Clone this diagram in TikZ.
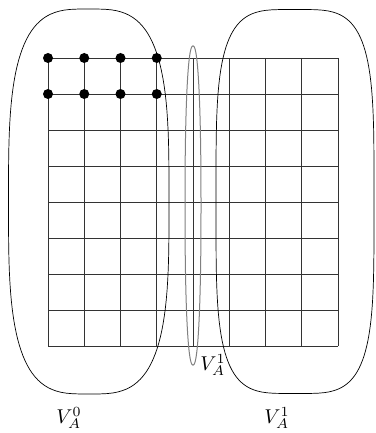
\documentclass[tikz,border=0pt]{standalone}
\begin{document}
\begin{tikzpicture}[x=1pt,y=-1pt,
  gridline/.style={draw=black!80,line width=0.9pt},
  blob/.style={draw=black,line width=0.7pt},
  midblob/.style={draw=black!50,line width=1pt},
  dot/.style={circle,fill=black,inner sep=0pt,minimum size=10pt},
  lbl/.style={scale=2,inner sep=0pt}]
\useasboundingbox (0,0) rectangle (375,433);
% grid
\foreach \i in {0,...,8}{
  \draw[gridline] ({48+36.25*\i},58) -- ({48+36.25*\i},346);
  \draw[gridline] (48,{58+36*\i}) -- (338,{58+36*\i});
}
% blobs
\draw[blob] plot[domain=1:361,samples=121]
  ({88.75+80.25*sign(cos(\x))*abs(cos(\x))^(2/3.3)},
   {201.5+192.5*sign(sin(\x))*abs(sin(\x))^(2/3.3)}) -- cycle;
\draw[blob] plot[domain=1:361,samples=121]
  ({295+79*sign(cos(\x))*abs(cos(\x))^(2/4)},
   {201.5+192*sign(sin(\x))*abs(sin(\x))^(2/4)}) -- cycle;
\draw[midblob] plot[domain=1:361,samples=181]
  ({193+8*sign(cos(\x))*abs(cos(\x))^(2/2.3)},
   {205.5+159.5*sign(sin(\x))*abs(sin(\x))^(2/2.3)}) -- cycle;
% dots
\foreach \c [count=\k] in {0,1,2,3}{
  \node[dot] (a\k) at ({48+36.25*\c},58) {};
  \node[dot] (b\k) at ({48+36.25*\c},94) {};
}
% labels
\node[lbl] (l0) at (69,418) {$V_A^0$};
\node[lbl] (l1) at (277,418) {$V_A^1$};
\node[lbl] (lm) at (213,365) {$V_A^1$};
\end{tikzpicture}
\end{document}
